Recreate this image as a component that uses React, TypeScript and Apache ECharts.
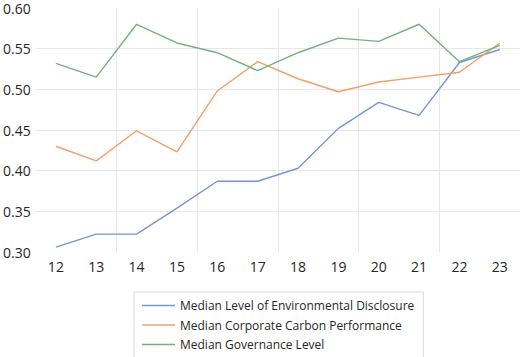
import React, { useEffect, useRef } from "react";
import * as echarts from "echarts";

// Year labels (two-digit) along the horizontal axis
const years = ["12", "13", "14", "15", "16", "17", "18", "19", "20", "21", "22", "23"];

// Median levels per year
const disclosure = [0.306, 0.322, 0.322, 0.354, 0.387, 0.387, 0.403, 0.452, 0.484, 0.468, 0.533, 0.549];
const carbon = [0.43, 0.412, 0.449, 0.423, 0.498, 0.534, 0.513, 0.497, 0.509, 0.515, 0.521, 0.557];
const governance = [0.532, 0.515, 0.58, 0.557, 0.545, 0.523, 0.545, 0.563, 0.559, 0.58, 0.534, 0.554];

const seriesNames = [
  "Median Level of Environmental Disclosure",
  "Median Corporate Carbon Performance",
  "Median Governance Level",
];
const seriesColors = ["#7596cf", "#f0a068", "#72b27d"];

const FONT = "'Open Sans', 'Noto Sans', sans-serif";

export default function App() {
  const ref = useRef<HTMLDivElement>(null);

  useEffect(() => {
    if (!ref.current) return;
    const chart = echarts.init(ref.current, undefined, { renderer: "svg" });
    const values = [disclosure, carbon, governance];

    chart.setOption({
      animation: false,
      backgroundColor: "#ffffff",
      grid: { left: 35, right: -2, top: 8, bottom: 105, containLabel: false },
      xAxis: {
        type: "category",
        data: years,
        boundaryGap: true,
        axisLine: { show: false },
        axisTick: { show: false },
        axisLabel: {
          color: "#262626",
          fontSize: 14,
          fontFamily: FONT,
          margin: 7,
        },
        splitLine: {
          show: true,
          interval: (idx: number) => idx > 0 && idx % 2 === 0,
          lineStyle: { color: "#e8e8e8", width: 1 },
        },
      },
      yAxis: {
        type: "value",
        min: 0.3,
        max: 0.6,
        interval: 0.05,
        axisLine: { show: false },
        axisTick: { show: false },
        axisLabel: {
          color: "#262626",
          fontSize: 14,
          fontFamily: FONT,
          margin: 5,
          formatter: (v: number) => v.toFixed(2),
        },
        splitLine: {
          show: true,
          lineStyle: {
            color: ["transparent", "#e8e8e8", "#e8e8e8", "#e8e8e8", "#e8e8e8", "#e8e8e8", "transparent"],
            width: 1,
          },
        },
      },
      legend: {
        orient: "vertical",
        left: 134,
        top: 292,
        height: 120,
        icon: "rect",
        itemWidth: 33,
        itemHeight: 1.5,
        itemGap: 4.5,
        padding: [6, 9, 14, 8],
        borderColor: "#d9d9d9",
        borderWidth: 1,
        textStyle: { color: "#262626", fontSize: 12, fontFamily: FONT, lineHeight: 15 },
        data: seriesNames,
      },
      series: seriesNames.map((name, i) => ({
        name,
        type: "line",
        data: values[i],
        symbol: "none",
        showSymbol: false,
        color: seriesColors[i],
        lineStyle: { color: seriesColors[i], width: 1.4 },
      })),
    });

    return () => chart.dispose();
  }, []);

  return (
    <div
      ref={ref}
      style={{ position: "fixed", left: 0, top: 0, width: 520, height: 357 }}
    />
  );
}
